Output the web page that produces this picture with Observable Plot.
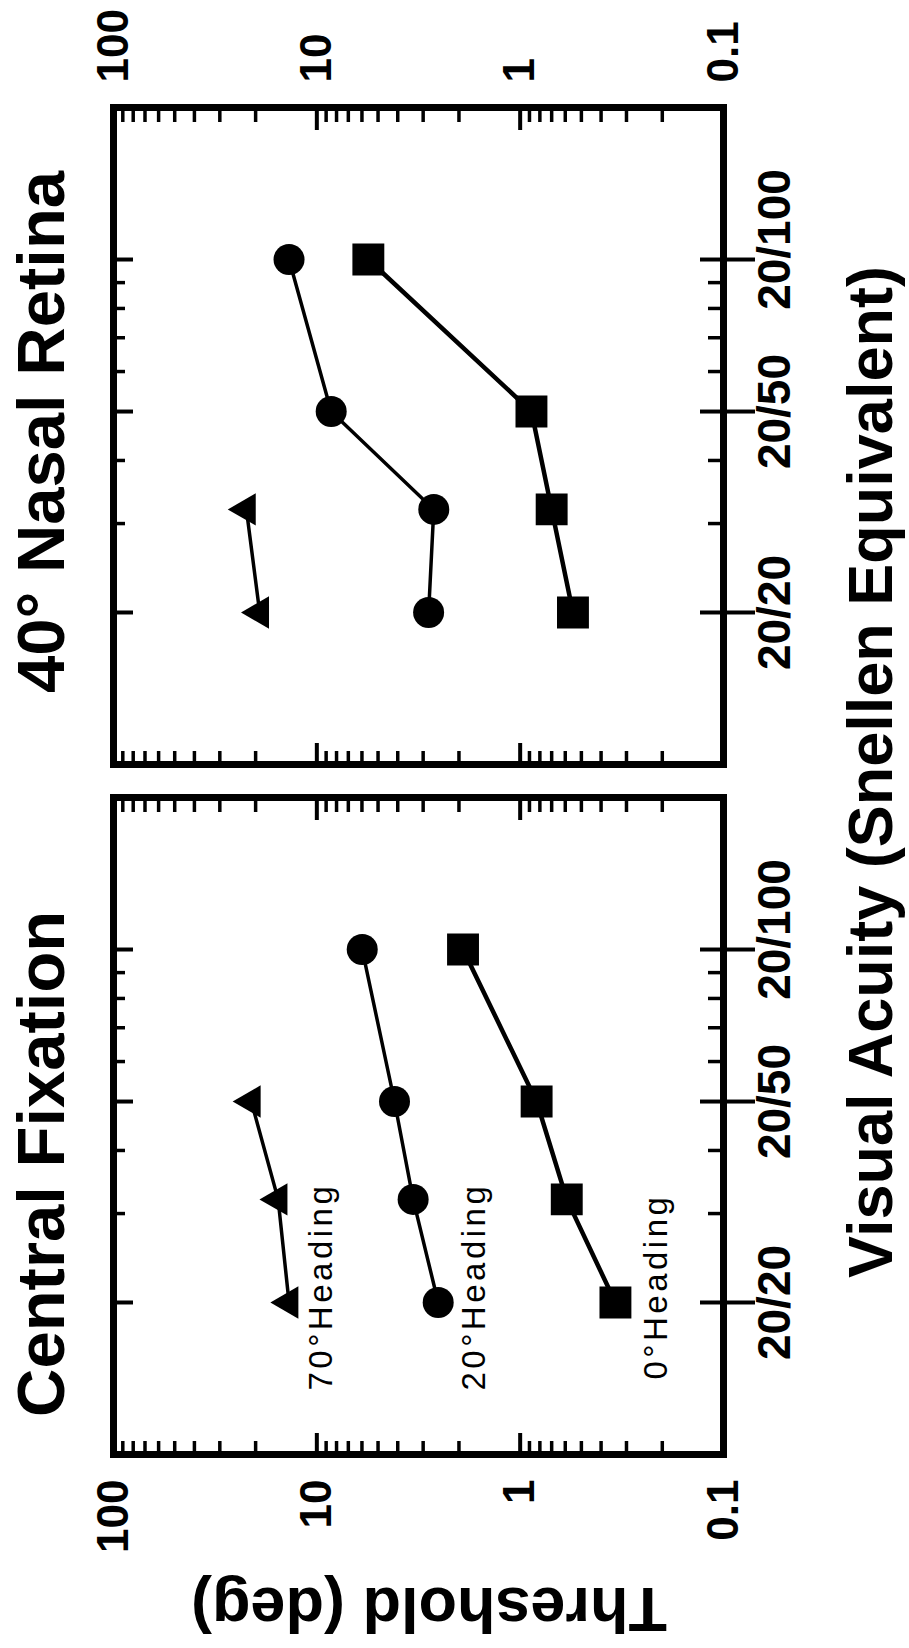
<!DOCTYPE html>
<html>
<head>
<meta charset="utf-8">
<script src="https://cdn.jsdelivr.net/npm/d3@7"></script>
<script src="https://cdn.jsdelivr.net/npm/@observablehq/plot@0.6"></script>
<style>
  html, body { margin: 0; padding: 0; width: 909px; height: 1648px; overflow: hidden; background: #fff; }
  #fig { position: absolute; left: 0; top: 0; width: 1648px; height: 909px;
         transform-origin: 0 0; transform: translate(0px, 1648px) rotate(-90deg); }
  #fig svg { position: absolute; left: 0; top: 0; overflow: visible; }
  g[font-size="33"] { letter-spacing: 3.5px; }
</style>
</head>
<body>
<div id="fig"></div>
<script>
// ---------- data ----------
// Snellen denominators (20/xx)
const acuity4 = [20, 32, 50, 100];
const acuityCentral70 = [20, 32, 50];
const acuityNasal70 = [20, 32];

// Central Fixation thresholds (deg)
const central0 = [0.34, 0.59, 0.83, 1.91];
const central20 = [2.53, 3.36, 4.15, 5.98];
const central70 = [13.7, 15.5, 21.0];

// 40° Nasal Retina thresholds (deg)
const nasal0 = [0.55, 0.70, 0.88, 5.58];
const nasal20 = [2.82, 2.66, 8.5, 13.7];
const nasal70 = [19.1, 22.2];

// ticks
const acuityMajor = [20, 50, 100];
const acuityMinor = [30, 40, 60, 70, 80, 90];
const acuityLabels = ["20/20", "20/50", "20/100"];
const thresholdMajor = [0.1, 1, 10, 100];
const thresholdMinor = [0.2, 0.3, 0.4, 0.5, 0.6, 0.7, 0.8, 0.9,
                        2, 3, 4, 5, 6, 7, 8, 9,
                        20, 30, 40, 50, 60, 70, 80, 90];
const thresholdLabels = ["0.1", "1", "10", "100"];

// heading annotations (Central Fixation panel)
const headingText = ["0°Heading", "20°Heading", "70°Heading"];
const headingAcuity = [21.5, 21.5, 21.5];
const headingThreshold = [0.19, 1.49, 8.4];

// ---------- layout ----------
const W = 1648, H = 909;
const FONT = "'Liberation Sans', Arial, Helvetica, sans-serif";
const mTop = 113, mBottom = 186;
const ph = H - mTop - mBottom;

function rows(xs, ys) { return xs.map((x, i) => ({acuity: x, threshold: ys[i]})); }
const acuityFmt = d => acuityLabels[acuityMajor.indexOf(d)];
const thrFmt = d => thresholdLabels[thresholdMajor.indexOf(d)];

function panel({left, right, yAnchor, s0, s20, s70, a70, headings}) {
  const pw = W - left - right;
  const marks = [
    // threshold ticks (inside, both sides)
    Plot.tickY(thresholdMajor, {insetRight: pw - 22, strokeWidth: 4}),
    Plot.tickY(thresholdMinor, {insetRight: pw - 14, strokeWidth: 3.5}),
    Plot.tickY(thresholdMajor, {insetLeft: pw - 22, strokeWidth: 4}),
    Plot.tickY(thresholdMinor, {insetLeft: pw - 14, strokeWidth: 3.5}),
    // acuity ticks (inside, bottom and top)
    Plot.tickX(acuityMajor, {insetTop: ph - 23, strokeWidth: 4}),
    Plot.tickX(acuityMinor, {insetTop: ph - 15, strokeWidth: 3.5}),
    Plot.tickX(acuityMajor, {insetBottom: ph - 20, strokeWidth: 4}),
    Plot.tickX(acuityMinor, {insetBottom: ph - 12, strokeWidth: 3.5}),
    // outside part of major acuity ticks
    Plot.axisX(acuityMajor, {tickSize: 32, strokeWidth: 4, tickFormat: () => "", label: null}),
    // acuity labels
    Plot.axisX(acuityMajor.slice(0, 2), {tickSize: 0, tickPadding: 34, tickFormat: acuityFmt,
      fontSize: 46, fontWeight: "bold", label: null}),
    Plot.axisX(acuityMajor.slice(2), {tickSize: 0, tickPadding: 34, tickFormat: acuityFmt,
      fontSize: 46, fontWeight: "bold", dx: 20, label: null}),
    // threshold labels
    Plot.axisY(thresholdMajor, {anchor: yAnchor, tickSize: 0, tickPadding: 25, tickFormat: thrFmt,
      fontSize: 44, fontWeight: "bold", label: null}),
    Plot.frame({strokeWidth: 7}),
    // data lines
    Plot.line(rows(acuity4, s0), {x: "acuity", y: "threshold", strokeWidth: 4.5}),
    Plot.line(rows(acuity4, s20), {x: "acuity", y: "threshold", strokeWidth: 3.5}),
    Plot.line(rows(a70, s70), {x: "acuity", y: "threshold", strokeWidth: 3.5}),
    // data points
    Plot.dot(rows(acuity4, s0), {x: "acuity", y: "threshold", symbol: "square", r: 18, fill: "black"}),
    Plot.dot(rows(acuity4, s20), {x: "acuity", y: "threshold", symbol: "circle", r: 15.5, fill: "black"}),
    Plot.dot(rows(a70, s70), {x: "acuity", y: "threshold", symbol: "triangle", r: 12, fill: "black"})
  ];
  if (headings) {
    marks.push(Plot.text(headingText, {
      x: (d, i) => headingAcuity[i], y: (d, i) => headingThreshold[i], text: d => d,
      fontSize: 33, lineAnchor: "bottom", textAnchor: "middle"
    }));
  }
  return Plot.plot({
    width: W, height: H,
    marginLeft: left, marginRight: right, marginTop: mTop, marginBottom: mBottom,
    x: {type: "log", domain: [10, 200], label: null},
    y: {type: "log", domain: [0.1, 100], label: null},
    style: {fontFamily: FONT, background: "transparent", color: "black", overflow: "visible"},
    marks
  });
}

const fig = document.getElementById("fig");
fig.append(panel({left: 193, right: W - 850, yAnchor: "left",
  s0: central0, s20: central20, s70: central70, a70: acuityCentral70, headings: true}));
fig.append(panel({left: 883, right: W - 1540, yAnchor: "right",
  s0: nasal0, s20: nasal20, s70: nasal70, a70: acuityNasal70, headings: false}));

// titles and axis titles
const ov = d3.create("svg").attr("width", W).attr("height", H)
  .attr("font-family", FONT).attr("font-weight", "bold").attr("fill", "black");
ov.append("text").attr("x", 231).attr("y", 64).attr("font-size", 67).text("Central Fixation");
ov.append("text").attr("x", 955).attr("y", 64).attr("font-size", 67).text("40° Nasal Retina");
ov.append("text").attr("transform", "translate(60,429) rotate(-90)").attr("text-anchor", "middle")
  .attr("font-size", 63).text("Threshold (deg)");
ov.append("text").attr("x", 876).attr("y", 892).attr("text-anchor", "middle")
  .attr("font-size", 63).text("Visual Acuity (Snellen Equivalent)");
fig.append(ov.node());
</script>
</body>
</html>
